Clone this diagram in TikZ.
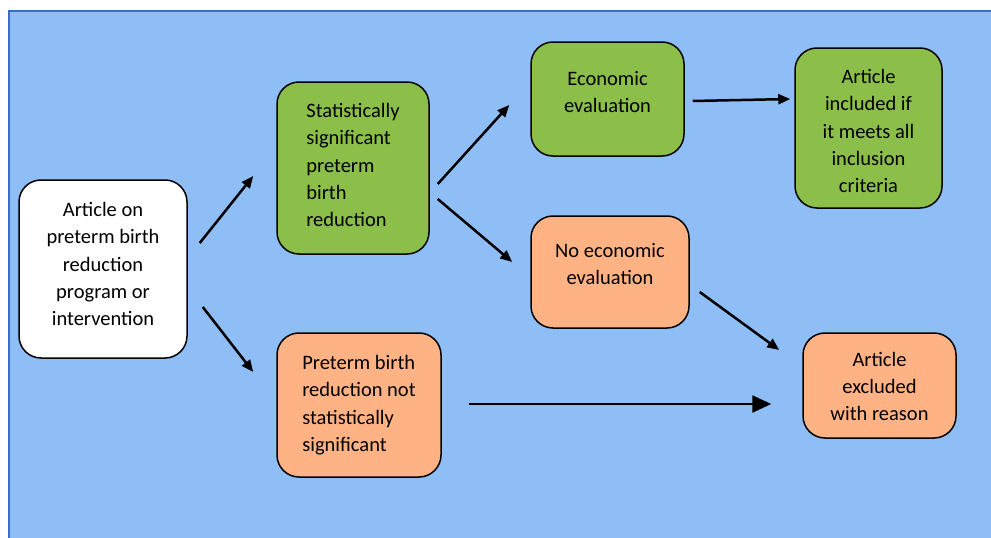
\documentclass[tikz,border=0pt]{standalone}
\usepackage{fontspec}
\setmainfont{Carlito}
\usetikzlibrary{arrows.meta}
\definecolor{bgblue}{HTML}{8FBDF5}
\definecolor{bgline}{HTML}{3A6EC4}
\definecolor{okgreen}{HTML}{8BBF49}
\definecolor{nogood}{HTML}{FFB385}
\begin{document}
\begin{tikzpicture}[
    x=1pt, y=-1pt,
    box/.style={draw, line width=1.5pt, rounded corners=22pt, inner sep=0pt},
    startbox/.style={box, fill=white},
    greenbox/.style={box, fill=okgreen},
    orangebox/.style={box, fill=nogood},
    txt/.style={align=center, inner sep=0pt, font=\fontsize{20.5}{27.3}\selectfont},
    arr/.style={-{Triangle[length=12pt,width=10pt]}, line width=2.5pt},
    bigarr/.style={-{Triangle[length=19pt,width=17pt]}, line width=2.5pt}
]
\useasboundingbox (0,0) rectangle (991,538);

% background
\fill[bgblue] (9,11) rectangle (991,538);
\draw[bgline, line width=1.5pt] (9,538) -- (9,11) -- (991,11);

% boxes
\node[startbox, minimum width=168, minimum height=178] (art) at (103,269) {};
\node[greenbox, minimum width=152, minimum height=172] (stat) at (353,168) {};
\node[orangebox, minimum width=164, minimum height=144] (notsig) at (359,405) {};
\node[greenbox, minimum width=153, minimum height=114] (econ) at (607.5,99) {};
\node[orangebox, minimum width=158, minimum height=112] (noecon) at (610,272) {};
\node[greenbox, minimum width=147, minimum height=160] (incl) at (868.5,128) {};
\node[orangebox, minimum width=153, minimum height=105] (excl) at (879.5,385.5) {};

% texts
\node[txt] (arttxt) at ([yshift=5pt]art.center)
    {Article on\\preterm birth\\reduction\\program or\\intervention};
\node[txt, align=left] (stattxt) at ([yshift=3pt]stat.center)
    {Statistically\\significant\\preterm\\birth\\reduction};
\node[txt, align=left] (notsigtxt) at (notsig.center)
    {Preterm birth\\reduction not\\statistically\\significant};
\node[txt] (econtxt) at ([yshift=7pt]econ.center) {Economic\\evaluation};
\node[txt] (noecontxt) at ([yshift=8pt]noecon.center) {No economic\\evaluation};
\node[txt] (incltxt) at ([yshift=-3pt]incl.center)
    {Article\\included if\\it meets all\\inclusion\\criteria};
\node[txt] (excltxt) at ([yshift=-1pt]excl.center) {Article\\excluded\\with reason};

% connectors
\draw[arr] ([shift={(12,-26)}]art.east) -- ([shift={(-23,8)}]stat.west);
\draw[arr] ([shift={(15,38)}]art.east) -- ([shift={(-23,-33)}]notsig.west);
\draw[arr] ([shift={(8,16)}]stat.east) -- ([shift={(-21,6)}]econ.west);
\draw[arr] ([shift={(8,31)}]stat.east) -- ([shift={(-18,-10)}]noecon.west);
\draw[arr] ([shift={(8,2)}]econ.east) -- ([shift={(-4,-29)}]incl.west);
\draw[arr] ([shift={(10,20)}]noecon.east) -- ([shift={(-23,-35.5)}]excl.west);
\draw[bigarr] ([shift={(27,-1)}]notsig.east) -- ([shift={(-31,18.5)}]excl.west);

\end{tikzpicture}
\end{document}
